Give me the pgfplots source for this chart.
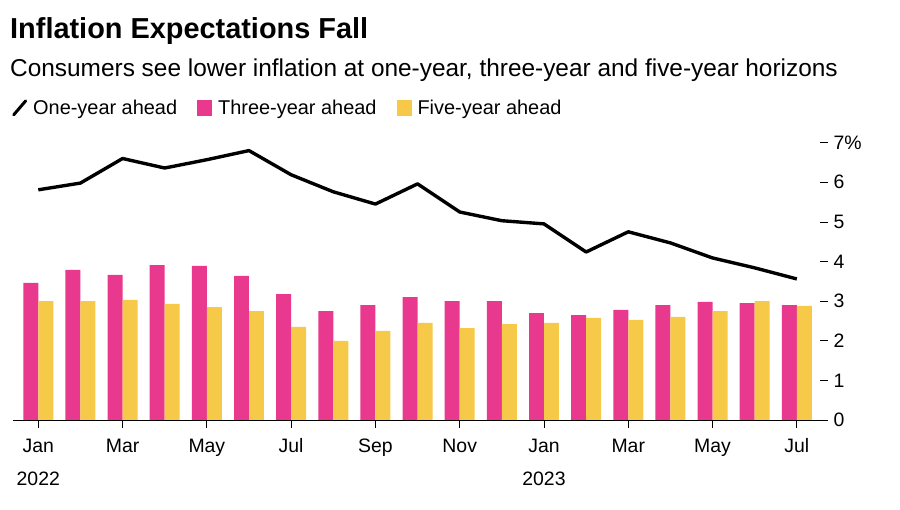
\documentclass[border=0pt]{standalone}
\usepackage{pgfplots}
\pgfplotsset{compat=1.18}
\usepackage{fontspec}
\setmainfont{Liberation Sans}
\definecolor{pk}{HTML}{E8398E}
\definecolor{yl}{HTML}{F7C948}
\begin{document}
\begin{tikzpicture}[x=1bp,y=1bp]
\useasboundingbox (0,0) rectangle (900,510);
\node[anchor=base west,font=\fontsize{29}{34}\selectfont\bfseries,inner sep=0] at (10,471) {Inflation Expectations Fall};
\node[anchor=base west,font=\fontsize{24.5}{29}\selectfont,inner sep=0] at (10,433) {Consumers see lower inflation at one-year, three-year and five-year horizons};
\begin{axis}[at={(13bp,90bp)},anchor=south west,scale only axis,width=807bp,height=290bp,
  xmin=-0.6,xmax=18.55,ymin=0,ymax=7.32,
  axis x line*=bottom, axis y line*=right, y axis line style={draw=none},
  x axis line style={black,line width=0.8pt},
  xtick={0,2,4,6,8,10,12,14,16,18},
  xticklabels={\strut Jan\\[6bp]\strut 2022,\strut Mar,\strut May,\strut Jul,\strut Sep,\strut Nov,\strut Jan\\[6bp]\strut 2023,\strut Mar,\strut May,\strut Jul},
  xticklabel style={align=center,font=\fontsize{19.5}{27}\selectfont,anchor=north,yshift=-2bp},
  ytick={0,1,2,3,4,5,6,7},
  yticklabels={0,1,2,3,4,5,6,7\%},
  yticklabel style={font=\fontsize{19.5}{22}\selectfont,anchor=west,xshift=2bp},
  tick align=outside, major tick length=8bp, tick style={black,line width=0.8pt},
  legend style={at={(-4bp,300bp)},anchor=south west,draw=none,fill=none,legend columns=3,
    font=\fontsize{20}{24}\selectfont,
    /tikz/every odd column/.append style={column sep=4bp},
    /tikz/every even column/.append style={column sep=18bp}},
  clip=false]
\addplot[black,line width=3.4pt,mark=none,line join=round,
  legend image code/.code={\draw[black,line width=3pt,line cap=round] (2bp,-7bp) -- (14bp,7bp);}] coordinates {
(0,5.81)(1,5.98)(2,6.6)(3,6.36)(4,6.57)(5,6.8)(6,6.19)(7,5.76)(8,5.45)(9,5.96)(10,5.25)(11,5.03)(12,4.95)(13,4.24)(14,4.75)(15,4.47)(16,4.09)(17,3.84)(18,3.56)};
\addplot[ybar,bar width=0.355,bar shift=-0.178,fill=pk,draw=none,area legend,
  legend image code/.code={\fill[pk] (0bp,-8bp) rectangle (15bp,8bp);}] coordinates {
(0,3.46)(1,3.79)(2,3.66)(3,3.91)(4,3.89)(5,3.64)(6,3.18)(7,2.75)(8,2.9)(9,3.1)(10,3.0)(11,3.0)(12,2.7)(13,2.65)(14,2.78)(15,2.9)(16,2.98)(17,2.95)(18,2.9)};
\addplot[ybar,bar width=0.355,bar shift=0.178,fill=yl,draw=none,area legend,
  legend image code/.code={\fill[yl] (0bp,-8bp) rectangle (15bp,8bp);}] coordinates {
(0,3.0)(1,3.0)(2,3.03)(3,2.93)(4,2.85)(5,2.75)(6,2.35)(7,2.0)(8,2.25)(9,2.45)(10,2.32)(11,2.42)(12,2.45)(13,2.58)(14,2.53)(15,2.6)(16,2.75)(17,3.0)(18,2.88)};
\legend{One-year ahead,Three-year ahead,Five-year ahead}
\end{axis}
\end{tikzpicture}
\end{document}
